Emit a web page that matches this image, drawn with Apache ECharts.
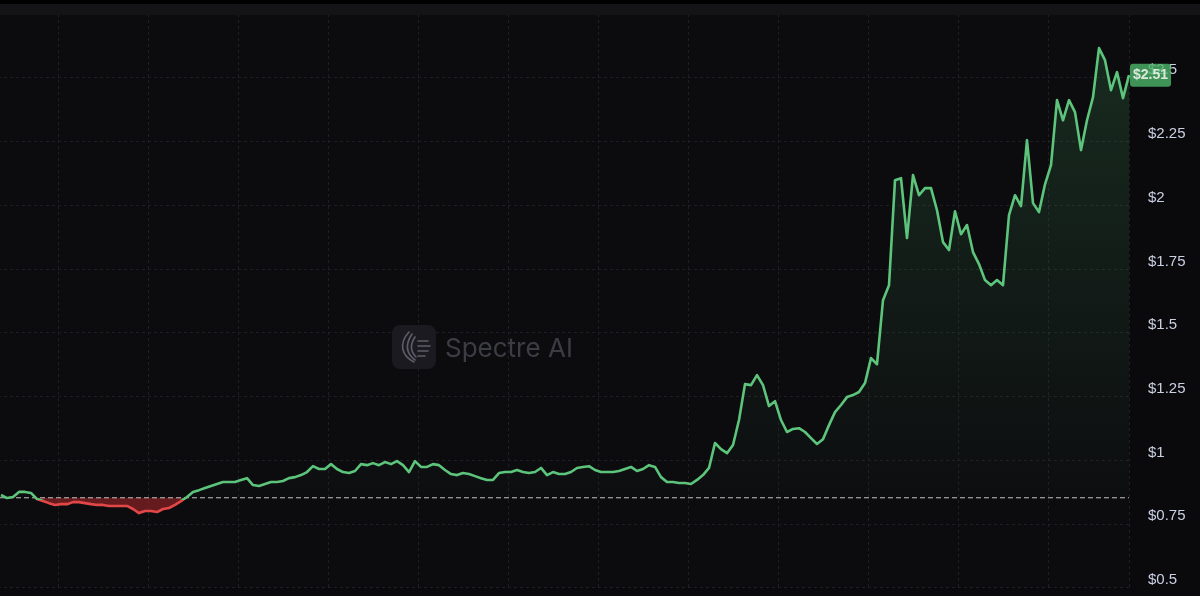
<!DOCTYPE html>
<html><head><meta charset="utf-8">
<script src="https://cdn.jsdelivr.net/npm/echarts@6.0.0/dist/echarts.min.js"></script>
<style>html,body{margin:0;padding:0;background:#0a0a0d;}#c{width:1200px;height:596px;}</style>
</head><body><div id="c"></div>
<script>
// Price series (USD), one value every 2 days
const prices = [
  0.863,0.851,0.855,0.875,0.875,0.871,0.847,0.839,0.831,0.824,
  0.827,0.827,0.835,0.835,0.831,0.827,0.824,0.824,0.820,0.820,
  0.820,0.820,0.808,0.792,0.800,0.800,0.796,0.808,0.812,0.824,
  0.839,0.855,0.875,0.882,0.890,0.898,0.906,0.914,0.914,0.914,
  0.922,0.929,0.902,0.898,0.906,0.914,0.914,0.918,0.929,0.933,
  0.941,0.953,0.976,0.965,0.965,0.984,0.965,0.953,0.949,0.957,
  0.984,0.980,0.988,0.980,0.992,0.984,0.996,0.980,0.953,0.996,
  0.973,0.973,0.984,0.980,0.961,0.945,0.941,0.949,0.945,0.937,
  0.929,0.922,0.922,0.949,0.953,0.953,0.961,0.953,0.949,0.953,
  0.969,0.941,0.953,0.945,0.945,0.953,0.969,0.973,0.976,0.961,
  0.953,0.953,0.953,0.957,0.965,0.973,0.957,0.965,0.980,0.973,
  0.933,0.914,0.914,0.910,0.910,0.906,0.922,0.941,0.969,1.067,
  1.043,1.027,1.059,1.157,1.298,1.294,1.333,1.294,1.212,1.231,
  1.157,1.110,1.122,1.125,1.110,1.086,1.063,1.082,1.137,1.188,
  1.216,1.247,1.255,1.267,1.302,1.400,1.376,1.627,1.686,2.098,
  2.106,1.871,2.118,2.039,2.067,2.067,1.980,1.855,1.824,1.976,
  1.886,1.922,1.816,1.769,1.706,1.686,1.706,1.686,1.961,2.039,
  1.996,2.255,2.008,1.973,2.082,2.157,2.412,2.333,2.412,2.365,
  2.216,2.333,2.424,2.616,2.569,2.451,2.522,2.420,2.510
];
const firstDay = 11;
const dayStep = 2;
const days = prices.map((_, i) => firstDay + i * dayStep);
const baseline = 0.852;
const lastPrice = prices[prices.length - 1];
const lastDay = days[days.length - 1];
const yMin = 0.5, yMax = 2.75, yStep = 0.25;
const xMin = 0, xMax = 387, xStep = 30;

const lineData = days.map((d, i) => [d, prices[i]]);
const upData = days.map((d, i) => [d, Math.max(prices[i], baseline)]);
const downData = days.map((d, i) => [d, Math.min(prices[i], baseline)]);

const GREEN = '#5cc47b', RED = '#e34646';
const pMax = Math.max(...prices), pMin = Math.min(...prices);
const split = (pMax - baseline) / (pMax - pMin);
const lineGradient = new echarts.graphic.LinearGradient(0, 0, 0, 1, [
  {offset: 0, color: GREEN}, {offset: split, color: GREEN},
  {offset: split, color: RED}, {offset: 1, color: RED}
]);
const FONT = 'Helvetica, Arial, "Liberation Sans", sans-serif';

const chart = echarts.init(document.getElementById('c'), null, {renderer: 'canvas'});
const iconStroke = {stroke: '#5f5d69', lineWidth: 1.6, fill: 'none', lineCap: 'round'};
chart.setOption({
  animation: false,
  backgroundColor: '#0a0a0d',
  grid: {left: -32, right: 71, top: 14, bottom: 8.5, show: true, backgroundColor: '#0c0c0f',
         borderWidth: 0, outerBoundsMode: 'none', containLabel: false},
  xAxis: {
    type: 'value', min: xMin, max: xMax, interval: xStep,
    axisLine: {show: false}, axisTick: {show: false}, axisLabel: {show: false},
    splitLine: {show: true, lineStyle: {color: '#1e1e24', type: [3, 3], width: 1}}
  },
  yAxis: {
    type: 'value', position: 'right', min: yMin, max: yMax, interval: yStep,
    axisLine: {show: false}, axisTick: {show: false},
    axisLabel: {
      margin: 19, color: '#cbcfe2', fontSize: 15, verticalAlign: 'bottom',
      fontFamily: FONT,
      formatter: v => (v >= yMax ? '' : '$' + v)
    },
    splitLine: {show: true, lineStyle: {color: '#1e1e24', type: [3, 3], width: 1}}
  },
  series: [
    {
      type: 'line', data: downData, showSymbol: false, symbol: 'none', z: 3, silent: true,
      lineStyle: {width: 0}, itemStyle: {color: RED},
      areaStyle: {origin: baseline, color: 'rgba(190,44,44,0.72)'}
    },
    {
      type: 'line', data: upData, showSymbol: false, symbol: 'none', z: 3, silent: true,
      lineStyle: {width: 0}, itemStyle: {color: GREEN},
      areaStyle: {
        origin: baseline,
        color: new echarts.graphic.LinearGradient(0, 0, 0, 1, [
          {offset: 0, color: 'rgba(62,140,82,0.34)'},
          {offset: 1, color: 'rgba(62,140,82,0.02)'}
        ])
      }
    },
    {
      type: 'line', data: [[xMin, baseline], [lastDay, baseline]], showSymbol: false, symbol: 'none',
      z: 4, silent: true, lineStyle: {color: '#c4c4c4', type: [5, 3], width: 1}
    },
    {
      type: 'line', data: lineData, showSymbol: false, symbol: 'none', z: 5, silent: true,
      itemStyle: {color: GREEN}, lineStyle: {width: 2.6, color: lineGradient, join: 'round'}
    },
    {
      type: 'scatter', data: [[lastDay, lastPrice]], symbolSize: 0, z: 10, silent: true,
      clip: false,
      label: {show: true, position: 'right', distance: 1, formatter: '$' + lastPrice,
              backgroundColor: '#4db569', color: '#ffffff', fontSize: 14, fontWeight: 'bold',
              fontFamily: FONT, padding: [5, 3, 4, 3], borderRadius: 3}
    }
  ],
  graphic: [
    {type: 'rect', z: 10, shape: {x: 0, y: 0, width: 1200, height: 4}, style: {fill: '#000000'}},
    {type: 'rect', z: 10, shape: {x: 0, y: 4, width: 1200, height: 11}, style: {fill: '#141417'}},
    {type: 'rect', z: 1, shape: {x: 392, y: 325, width: 44, height: 44, r: 8}, style: {fill: '#1b1a21'}},
    {type: 'bezierCurve', z: 2, shape: {x1: 409, y1: 332, x2: 414, y2: 362, cpx1: 398, cpy1: 344, cpx2: 402, cpy2: 356}, style: iconStroke},
    {type: 'bezierCurve', z: 2, shape: {x1: 412, y1: 334, x2: 415, y2: 360, cpx1: 404, cpy1: 346, cpx2: 407, cpy2: 354}, style: iconStroke},
    {type: 'bezierCurve', z: 2, shape: {x1: 415, y1: 337, x2: 416, y2: 357, cpx1: 409, cpy1: 346, cpx2: 411, cpy2: 352}, style: iconStroke},
    {type: 'line', z: 2, shape: {x1: 418, y1: 341, x2: 428, y2: 341}, style: iconStroke},
    {type: 'line', z: 2, shape: {x1: 418, y1: 346, x2: 430, y2: 346}, style: iconStroke},
    {type: 'line', z: 2, shape: {x1: 418, y1: 351, x2: 428, y2: 351}, style: iconStroke},
    {type: 'line', z: 2, shape: {x1: 418, y1: 356, x2: 425, y2: 356}, style: iconStroke},
    {type: 'text', z: 2, style: {text: 'Spectre AI', x: 445, y: 349, fill: '#3c3c44',
      font: '26px Inter, "Noto Sans", Helvetica, sans-serif', verticalAlign: 'middle'}}
  ]
});
</script></body></html>
